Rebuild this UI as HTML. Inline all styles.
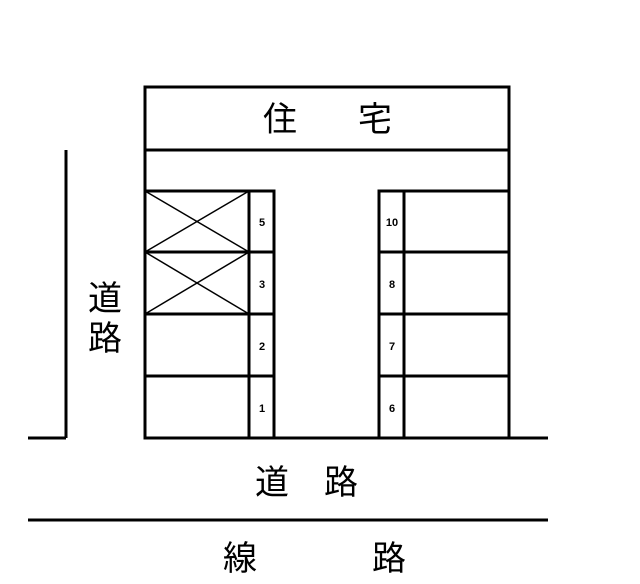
<!DOCTYPE html>
<html><head><meta charset="utf-8"><style>
body{margin:0;background:#fff;width:640px;height:584px;overflow:hidden}
</style></head><body>
<svg width="640" height="584" xmlns="http://www.w3.org/2000/svg" style="position:absolute;left:0;top:0">
<g stroke="#000" stroke-width="3" fill="none">
<rect x="145" y="87" width="364" height="351"/>
<line x1="145" y1="150" x2="509" y2="150"/>
<line x1="66" y1="150" x2="66" y2="438"/>
<line x1="28" y1="438" x2="66" y2="438"/>
<line x1="145" y1="438" x2="548" y2="438"/>
<line x1="28" y1="520" x2="548" y2="520"/>
<rect x="145" y="191" width="104" height="247" fill="#fff"/>
<rect x="249" y="191" width="25" height="247" fill="#fff"/>
<line x1="145" y1="252" x2="274" y2="252"/>
<line x1="145" y1="314" x2="274" y2="314"/>
<line x1="145" y1="376" x2="274" y2="376"/>
<rect x="379" y="191" width="25" height="247" fill="#fff"/>
<line x1="404" y1="191" x2="509" y2="191"/>
<line x1="379" y1="252" x2="509" y2="252"/>
<line x1="379" y1="314" x2="509" y2="314"/>
<line x1="379" y1="376" x2="509" y2="376"/>
</g>
<g stroke="#000" stroke-width="1.5">
<line x1="145" y1="191" x2="249" y2="252"/><line x1="249" y1="191" x2="145" y2="252"/>
<line x1="145" y1="252" x2="249" y2="314"/><line x1="249" y1="252" x2="145" y2="314"/>
</g>
<g font-family="Liberation Sans, sans-serif" font-size="11" font-weight="bold" text-anchor="middle">
<text x="262" y="226">5</text><text x="262" y="288">3</text><text x="262" y="350">2</text><text x="262" y="412">1</text>
<text x="392" y="226">10</text><text x="392" y="288">8</text><text x="392" y="350">7</text><text x="392" y="412">6</text>
</g>
<g font-family="Liberation Sans, 'Noto Sans CJK JP', sans-serif" font-size="34" text-anchor="middle">
<text x="280" y="131">住</text><text x="375" y="131">宅</text>
<text x="105" y="310">道</text><text x="105" y="350">路</text>
<text x="272" y="494">道</text><text x="341" y="494">路</text>
<text x="240" y="570">線</text><text x="389" y="570">路</text>
</g>
</svg>
</body></html>
